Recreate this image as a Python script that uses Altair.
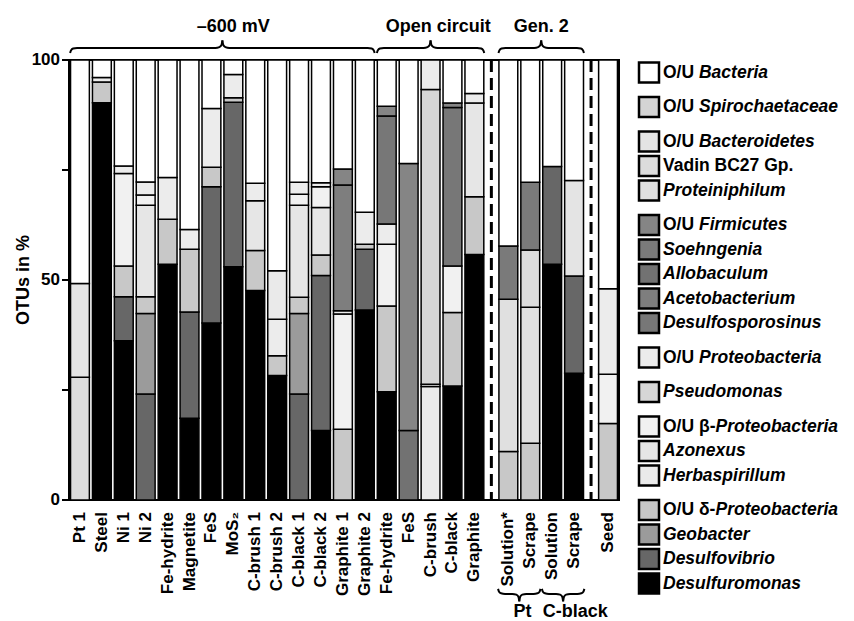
import altair as alt
import pandas as pd

FONT = "Liberation Sans"

# ---------------- data ----------------
categories = [
    "O/U Bacteria", "O/U Spirochaetaceae", "O/U Bacteroidetes", "Vadin BC27 Gp.", "Proteiniphilum",
    "O/U Firmicutes", "Soehngenia", "Allobaculum", "Acetobacterium", "Desulfosporosinus",
    "O/U Proteobacteria", "Pseudomonas",
    "O/U β-Proteobacteria", "Azonexus", "Herbaspirillum",
    "O/U δ-Proteobacteria", "Geobacter", "Desulfovibrio", "Desulfuromonas",
]
tones = [
    "#ffffff", "#d4d4d4", "#e4e4e4", "#dcdcdc", "#e0e0e0",
    "#858585", "#7a7a7a", "#727272", "#7e7e7e", "#777777",
    "#ececec", "#d6d6d6",
    "#f1f1f1", "#e6e6e6", "#eaeaea",
    "#c8c8c8", "#9b9b9b", "#676767", "#000000",
]
legend_prefix = ["O/U ", "O/U ", "O/U ", "Vadin BC27 Gp.", "", "O/U ", "", "", "", "",
                 "O/U ", "", "O/U β-", "", "", "O/U δ-", "", "", ""]
legend_italic = ["Bacteria", "Spirochaetaceae", "Bacteroidetes", "", "Proteiniphilum",
                 "Firmicutes", "Soehngenia", "Allobaculum", "Acetobacterium", "Desulfosporosinus",
                 "Proteobacteria", "Pseudomonas", "Proteobacteria", "Azonexus", "Herbaspirillum",
                 "Proteobacteria", "Geobacter", "Desulfovibrio", "Desulfuromonas"]
legend_group_sizes = [1, 1, 3, 5, 1, 1, 3, 4]

sample_labels = ["Pt 1", "Steel", "Ni 1", "Ni 2", "Fe-hydrite", "Magnetite", "FeS", "MoS₂",
                 "C-brush 1", "C-brush 2", "C-black 1", "C-black 2", "Graphite 1", "Graphite 2",
                 "Fe-hydrite", "FeS", "C-brush", "C-black", "Graphite",
                 "Solution*", "Scrape", "Solution", "Scrape", "Seed"]

# segments of each bar, bottom to top (category, % of OTUs)
bar_segments = [
    [("Vadin BC27 Gp.", 27.9), ("O/U Bacteroidetes", 21.3), ("O/U Bacteria", 50.8)],
    [("Desulfuromonas", 90.3), ("O/U δ-Proteobacteria", 4.7), ("O/U Proteobacteria", 1.0), ("O/U Bacteria", 4.0)],
    [("Desulfuromonas", 36.2), ("Desulfovibrio", 10.0), ("O/U δ-Proteobacteria", 7.0), ("O/U β-Proteobacteria", 21.0),
     ("O/U Proteobacteria", 1.7), ("O/U Bacteria", 24.1)],
    [("Desulfovibrio", 24.1), ("Geobacter", 18.3), ("O/U δ-Proteobacteria", 3.8), ("Azonexus", 20.8),
     ("O/U β-Proteobacteria", 2.3), ("O/U Proteobacteria", 3.0), ("O/U Bacteria", 27.7)],
    [("Desulfuromonas", 53.6), ("O/U δ-Proteobacteria", 10.2), ("O/U Proteobacteria", 9.5), ("O/U Bacteria", 26.7)],
    [("Desulfuromonas", 18.6), ("Desulfovibrio", 24.1), ("O/U δ-Proteobacteria", 14.3), ("O/U Proteobacteria", 4.5),
     ("O/U Bacteria", 38.5)],
    [("Desulfuromonas", 40.2), ("Desulfovibrio", 31.0), ("O/U δ-Proteobacteria", 4.4), ("O/U Proteobacteria", 13.4),
     ("O/U Bacteria", 11.0)],
    [("Desulfuromonas", 53.0), ("Desulfovibrio", 37.4), ("O/U δ-Proteobacteria", 1.0), ("O/U Proteobacteria", 5.3),
     ("O/U Bacteria", 3.3)],
    [("Desulfuromonas", 47.6), ("O/U δ-Proteobacteria", 9.1), ("Azonexus", 11.3), ("O/U Proteobacteria", 4.0),
     ("O/U Bacteria", 28.0)],
    [("Desulfuromonas", 28.3), ("O/U δ-Proteobacteria", 4.5), ("O/U Proteobacteria", 8.3), ("Herbaspirillum", 11.0),
     ("O/U Bacteria", 47.9)],
    [("Desulfovibrio", 24.1), ("Geobacter", 18.3), ("O/U δ-Proteobacteria", 3.7), ("Azonexus", 20.9),
     ("O/U β-Proteobacteria", 2.5), ("O/U Proteobacteria", 2.7), ("O/U Bacteria", 27.8)],
    [("Desulfuromonas", 15.8), ("Desulfovibrio", 35.2), ("O/U δ-Proteobacteria", 4.7), ("Azonexus", 10.8),
     ("O/U β-Proteobacteria", 4.7), ("O/U Proteobacteria", 0.9), ("O/U Bacteria", 27.9)],
    [("O/U δ-Proteobacteria", 16.1), ("O/U β-Proteobacteria", 26.2), ("O/U Proteobacteria", 0.7),
     ("Acetobacterium", 28.6), ("O/U Firmicutes", 3.6), ("O/U Bacteria", 24.8)],
    [("Desulfuromonas", 43.2), ("Desulfovibrio", 13.8), ("O/U δ-Proteobacteria", 1.1), ("O/U Proteobacteria", 7.3),
     ("O/U Bacteria", 34.6)],
    [("Desulfuromonas", 24.6), ("O/U δ-Proteobacteria", 19.5), ("O/U β-Proteobacteria", 14.0),
     ("O/U Proteobacteria", 4.6), ("Desulfosporosinus", 24.6), ("O/U Firmicutes", 2.2), ("O/U Bacteria", 10.5)],
    [("Allobaculum", 15.8), ("O/U Firmicutes", 60.7), ("O/U Bacteria", 23.5)],
    [("Herbaspirillum", 25.8), ("O/U β-Proteobacteria", 0.5), ("Pseudomonas", 67.0), ("O/U Proteobacteria", 6.7)],
    [("Desulfuromonas", 25.9), ("O/U δ-Proteobacteria", 16.7), ("O/U β-Proteobacteria", 10.6),
     ("Desulfosporosinus", 36.0), ("O/U Firmicutes", 1.0), ("O/U Bacteria", 9.8)],
    [("Desulfuromonas", 55.8), ("O/U δ-Proteobacteria", 13.1), ("Azonexus", 21.3), ("O/U Proteobacteria", 2.2),
     ("O/U Bacteria", 7.6)],
    [("O/U δ-Proteobacteria", 11.0), ("Proteiniphilum", 34.6), ("Soehngenia", 12.1), ("O/U Bacteria", 42.3)],
    [("O/U δ-Proteobacteria", 12.9), ("Proteiniphilum", 30.9), ("Vadin BC27 Gp.", 13.0), ("Soehngenia", 15.4),
     ("O/U Bacteria", 27.8)],
    [("Desulfuromonas", 53.6), ("Desulfovibrio", 22.2), ("O/U Bacteria", 24.2)],
    [("Desulfuromonas", 28.8), ("Desulfovibrio", 22.1), ("O/U Bacteroidetes", 21.7), ("O/U Bacteria", 27.4)],
    [("O/U δ-Proteobacteria", 17.4), ("O/U β-Proteobacteria", 11.2), ("O/U Proteobacteria", 19.4),
     ("O/U Bacteria", 52.0)],
]

y_ticks = [0, 25, 50, 75, 100]
y_tick_labels = ["0", "", "50", "", "100"]
y_title = "OTUs in %"
group_titles = ["–600 mV", "Open circuit", "Gen. 2"]
group_spans = [(0, 13), (14, 18), (19, 22)]
group_title_shift = [0.5, 0.35, 0.0]
sub_titles = ["Pt", "C-black"]
sub_spans = [(19, 20), (21, 22)]
sub_title_shift = [0.15, 0.55]
SEP_AFTER = [18, 22]

# ---------------- layout ----------------
W, H = 550, 440
SEP_W = 0.55
xc, sep_x, pos = [], [], 0.0
for i in range(len(sample_labels)):
    xc.append(pos + 0.5)
    pos += 1.0
    if i in SEP_AFTER:
        sep_x.append(pos + SEP_W / 2)
        pos += SEP_W
TOTAL = pos
STEP = W / TOTAL
PXY = H / 100.0
TICK_LEN = 7.0
boundaries = sorted(set([round(c - 0.5, 4) for c in xc] + [round(c + 0.5, 4) for c in xc]))

rows = []
for i, segs in enumerate(bar_segments):
    for k, (cat, v) in enumerate(segs):
        rows.append({"key": i, "seg": k, "category": cat, "value": v, "xc": xc[i]})
seg_df = pd.DataFrame(rows)
sample_df = pd.DataFrame({"label": sample_labels, "xc": xc})
sep_df = pd.DataFrame({"sx": sep_x})
ytick_df = pd.DataFrame({"yt": y_ticks, "lab": y_tick_labels})
ytick_df["xa"] = -TICK_LEN / STEP
ytick_df["xb"] = 0.0
ytitle_df = pd.DataFrame({"t": [y_title]})


def brace_rows(x_left, x_right, y_base, direction, bid):
    half = (x_right - x_left) * STEP / 2
    prof = [(0, 0), (1, 2.8), (3, 4.4), (7, 5.0), (half - 7, 5.0), (half - 3, 5.8), (half - 1, 7.6), (half, 12.5)]
    out = []
    for k, (dxp, dyp) in enumerate(prof):
        out.append({"part": f"{bid}L", "k": k, "bx": x_left + dxp / STEP, "by": y_base + direction * dyp / PXY})
    for k, (dxp, dyp) in enumerate(reversed(prof)):
        out.append({"part": f"{bid}R", "k": k, "bx": x_left + (2 * half - dxp) / STEP,
                    "by": y_base + direction * dyp / PXY})
    return out


brows, trows = [], []
for n, ((a, b), t) in enumerate(zip(group_spans, group_titles)):
    x0, x1 = xc[a] - 0.45, xc[b] + 0.45
    brows += brace_rows(x0, x1, 101.6, 1, f"g{n}")
    trows.append({"tx": (x0 + x1) / 2 + group_title_shift[n], "ty": 106.4, "t": t})
for n, ((a, b), t) in enumerate(zip(sub_spans, sub_titles)):
    x0, x1 = xc[a] - 0.47, xc[b] + 0.47
    brows += brace_rows(x0, x1, -20.2, -1, f"s{n}")
    trows.append({"tx": (x0 + x1) / 2 + sub_title_shift[n], "ty": -26.6, "t": t})
brace_df = pd.DataFrame(brows)
title_df = pd.DataFrame(trows)

# ---------------- scales & axes ----------------
xscale = alt.Scale(domain=[0, TOTAL], nice=False, zero=False)
yscale = alt.Scale(domain=[0, 100], nice=False, zero=False)
color = alt.Scale(domain=categories, range=tones)

xaxis = alt.Axis(values=boundaries, labels=False, title=None, grid=True, gridColor="#b4b4b4",
                 gridWidth=1.5, tickColor="black", tickSize=5, tickWidth=1.5,
                 domainColor="black", domainWidth=2)

bars = alt.Chart(seg_df).transform_stack(
    stack="value", groupby=["key"], sort=[alt.SortField("seg", order="ascending")], as_=["y0", "y1"]
).transform_calculate(
    xl="datum.xc - 0.43", xr="datum.xc + 0.43"
).mark_bar(stroke="black", strokeWidth=1.5).encode(
    x=alt.X("xl:Q", scale=xscale, axis=xaxis),
    x2=alt.X2("xr"),
    y=alt.Y("y0:Q", scale=yscale, axis=None),
    y2=alt.Y2("y1"),
    fill=alt.Fill("category:N", scale=color, legend=None),
)

# y axis: ticks, labels and title through the chart's scales
yticks = alt.Chart(ytick_df).mark_rule(color="black", strokeWidth=2).encode(
    x=alt.X("xa:Q", scale=xscale, axis=None), x2=alt.X2("xb"),
    y=alt.Y("yt:Q", scale=yscale, axis=None),
)
ylabels = alt.Chart(ytick_df).mark_text(
    align="right", baseline="middle", font=FONT, fontSize=17, fontWeight="bold", color="black"
).encode(y=alt.Y("yt:Q", scale=yscale, axis=None), x=alt.value(-9), text="lab:N")
ytitle = alt.Chart(ytitle_df).mark_text(
    angle=270, align="center", baseline="middle", font=FONT, fontSize=18, fontWeight="bold", color="black"
).encode(x=alt.value(-45), y=alt.value(H / 2), text="t:N")

seps = alt.Chart(sep_df).mark_rule(color="black", strokeWidth=3, strokeDash=[12, 6]).encode(
    x=alt.X("sx:Q", scale=xscale, axis=None), y=alt.value(0), y2=alt.value(H)
)

xlabels = alt.Chart(sample_df).mark_text(
    angle=270, align="right", baseline="middle", dx=-12, font=FONT, fontSize=17, fontWeight="bold", color="black"
).encode(x=alt.X("xc:Q", scale=xscale, axis=None), y=alt.value(H), text="label:N")

braces = alt.Chart(brace_df).mark_line(color="black", strokeWidth=2, interpolate="monotone").encode(
    x=alt.X("bx:Q", scale=xscale, axis=None), y=alt.Y("by:Q", scale=yscale, axis=None),
    detail="part:N", order="k:Q"
)

titles = alt.Chart(title_df).mark_text(
    font=FONT, fontSize=18, fontWeight="bold", baseline="alphabetic", align="center", color="black"
).encode(x=alt.X("tx:Q", scale=xscale, axis=None), y=alt.Y("ty:Q", scale=yscale, axis=None), text="t:N")

# ---------------- legend (drawn to the right of the plot) ----------------
ROW, GAP = 24.5, 10.0
ly, i = [], 0
for g, size in enumerate(legend_group_sizes):
    for _ in range(size):
        ly.append(12.5 + ROW * i + GAP * g)
        i += 1
leg_df = pd.DataFrame({"category": categories, "prefix": legend_prefix, "name": legend_italic, "ly": ly})
LEG_FS = 17.5
LX = W + 30
lyenc = alt.Y("ly:Q", scale=None, axis=None)
lbase = alt.Chart(leg_df)
squares = lbase.mark_square(size=400, opacity=1, stroke="black", strokeWidth=2.5, filled=True).encode(
    x=alt.value(LX), y=lyenc, fill=alt.Fill("category:N", scale=color, legend=None)
)
upright = lbase.mark_text(align="left", baseline="middle", font=FONT, fontSize=LEG_FS, fontWeight="bold",
                          color="black").encode(x=alt.value(LX + 14), y=lyenc, text="prefix:N")
em = {"": 0.0, "O/U ": 2.056, "O/U β-": 3.0, "O/U δ-": 3.0}
ital_layers = []
for p, w in em.items():
    ital_layers.append(
        lbase.transform_filter(alt.datum.prefix == p).mark_text(
            align="left", baseline="middle", font=FONT, fontSize=LEG_FS, fontWeight="bold",
            fontStyle="italic", color="black", dx=w * LEG_FS
        ).encode(x=alt.value(LX + 14), y=lyenc, text="name:N")
    )

chart = alt.layer(bars, yticks, ylabels, ytitle, seps, xlabels, braces, titles,
                  squares, upright, *ital_layers).properties(
    width=W, height=H, padding={"left": 7, "top": 9, "right": 0, "bottom": 0}
).configure(font=FONT).configure_view(stroke="black", strokeWidth=2)

chart.save("out.html", embed_options={"renderer": "svg", "actions": False})
